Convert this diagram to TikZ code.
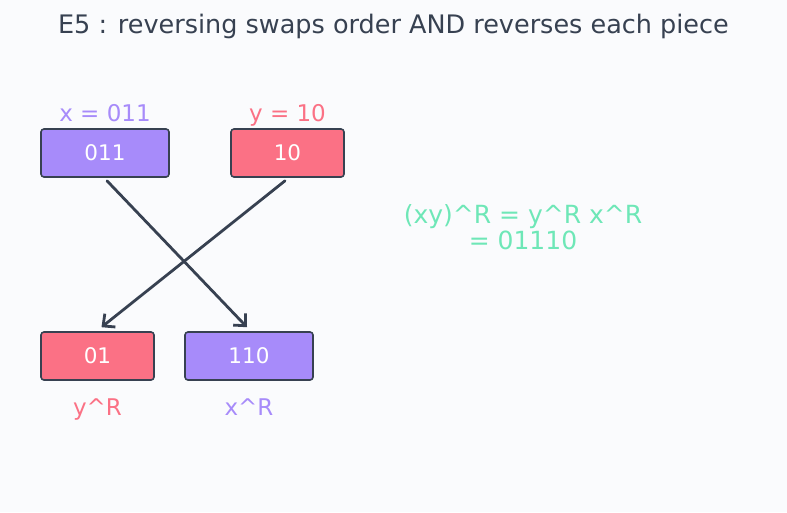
\documentclass[tikz,border=0pt]{standalone}
\usepackage{fontspec}
\setmainfont{DejaVu Sans}
\usetikzlibrary{arrows.meta}
\definecolor{bg}{HTML}{FAFBFD}
\definecolor{violetc}{HTML}{A78BFA}
\definecolor{rosec}{HTML}{FB7185}
\definecolor{greenc}{HTML}{6EE7B7}
\definecolor{inkc}{HTML}{374151}
\tikzset{
  box/.style={draw=inkc, line width=1.6pt, rounded corners=3pt, text=white, minimum height=48pt, inner sep=0pt, font=\fontsize{21.5}{24}\selectfont},
  vbox/.style={box, fill=violetc},
  rbox/.style={box, fill=rosec},
  lbl/.style={font=\fontsize{23}{26}\selectfont, inner sep=0pt, anchor=base},
  conn/.style={draw=inkc, line width=2.8pt, line cap=round, -{Straight Barb[length=9pt, width=17pt, line width=2.8pt]}},
}
\begin{document}
\begin{tikzpicture}[x=1pt, y=-1pt]
\fill[bg] (0,0) rectangle (787,512);
\useasboundingbox (0,0) rectangle (787,512);
\node[font=\fontsize{25.5}{30}\selectfont, text=inkc] (title) at (393.5,26) {E5 : reversing swaps order AND reverses each piece};
\node[vbox, minimum width=128pt] (A) at (105,153) {011};
\node[rbox, minimum width=113pt] (B) at (287.5,153) {10};
\node[rbox, minimum width=113pt] (C) at (97.5,356) {01};
\node[vbox, minimum width=128pt] (D) at (249,356) {110};
\node[lbl, text=violetc] (xl) at (105,121) {x = 011};
\node[lbl, text=rosec] (yl) at (287.5,121) {y = 10};
\node[lbl, text=rosec] (yr) at (97.5,415) {y\^{}R};
\node[lbl, text=violetc] (xr) at (249,415) {x\^{}R};
\node[font=\fontsize{25}{26}\selectfont, text=greenc, align=center, inner sep=0pt] (f) at (523,227) {(xy)\^{}R = y\^{}R x\^{}R\\= 01110};
\draw[conn] ([xshift=2pt,yshift=-3pt]A.south) -- ([xshift=-2pt,yshift=4pt]D.north);
\draw[conn] ([xshift=-2.5pt,yshift=-3pt]B.south) -- ([xshift=4pt,yshift=4pt]C.north);
\end{tikzpicture}
\end{document}
